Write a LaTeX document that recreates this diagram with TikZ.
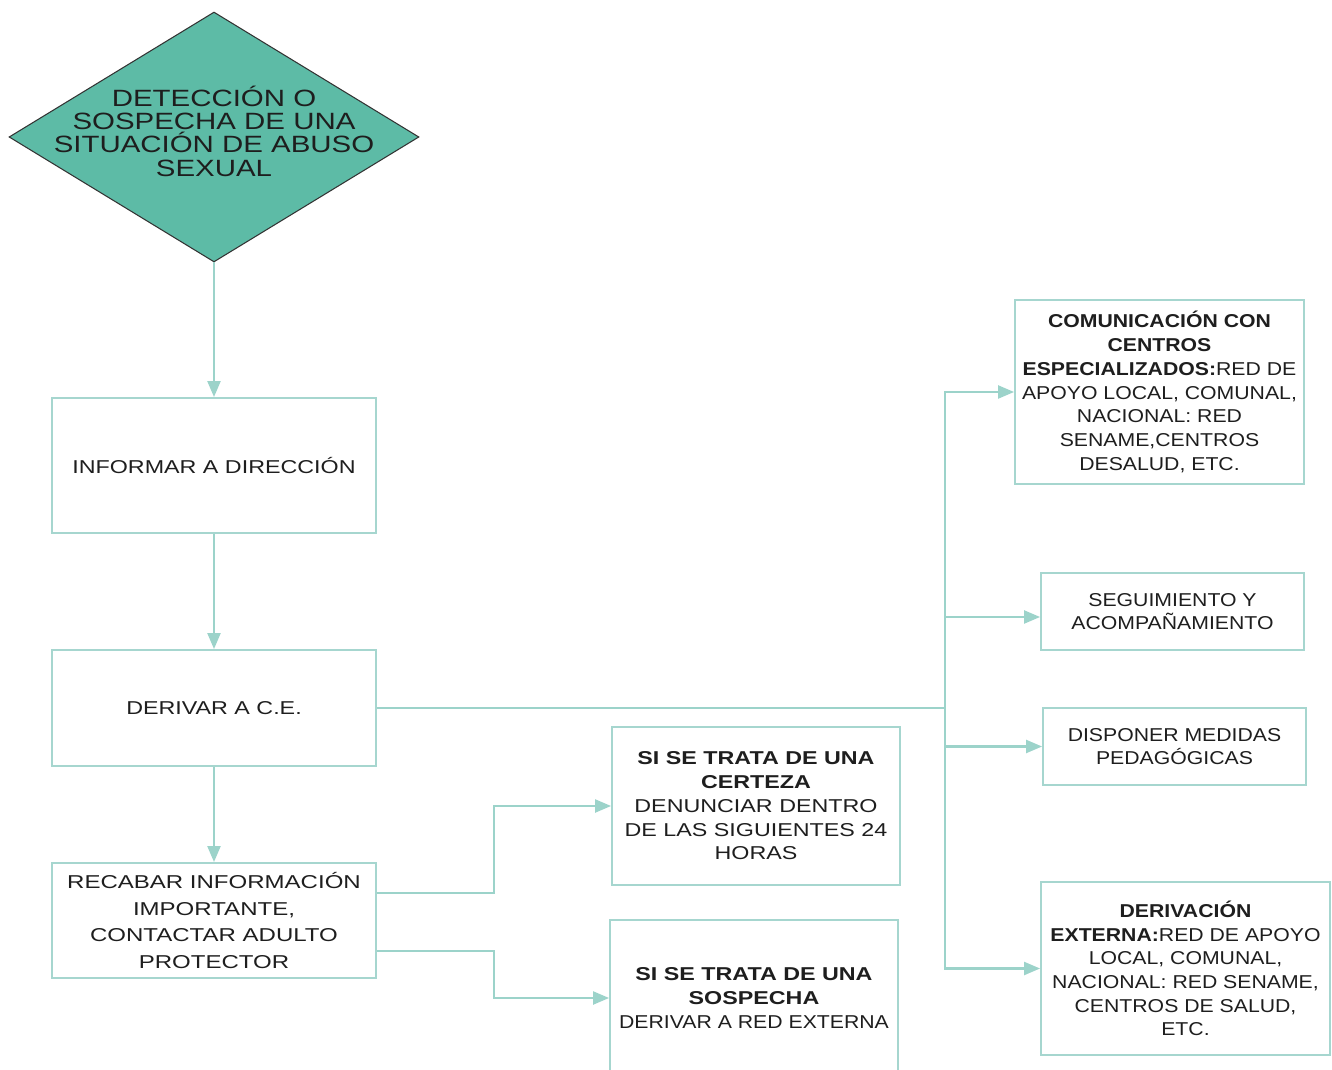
\documentclass[tikz,border=0pt]{standalone}
\usepackage{fontspec}
\usepackage{graphicx}
\setmainfont{Liberation Sans}[FakeStretch=1.25]
\newfontfamily\narrowfont{Liberation Sans}[FakeStretch=1.14]
\newfontfamily\widefont{Liberation Sans}[FakeStretch=1.29]
\usetikzlibrary{arrows.meta,shapes.geometric}
\definecolor{tealfill}{HTML}{5DBBA6}
\definecolor{boxline}{HTML}{A6D6CF}
\definecolor{arrowline}{HTML}{9CD3CA}
\definecolor{ink}{HTML}{1E1E1E}

\begin{document}
\begin{tikzpicture}[x=0.02cm, y=-0.02cm]
\tikzstyle{decision} = [diamond, draw = black!80, fill = tealfill, line width = 0.6pt, inner sep = 0pt, minimum width = 8.2cm, minimum height = 5cm]
\tikzstyle{box} = [rectangle, draw = boxline, line width = 1.1pt, inner sep = 0pt, align = center, text = ink, font = \fontsize{10.6}{13.5}\selectfont]
\tikzstyle{narrowbox} = [box, font = \narrowfont\fontsize{10.6}{13.5}\selectfont]
\tikzstyle{edge} = [-{Triangle[length=0.32cm, width=0.26cm]}, draw = arrowline, line width = 1.3pt]
\useasboundingbox (0, 0) rectangle (1332, 1070);
% -----------------------------------
% Left column
\node[decision] (detect) at (214, 137) {};
\node[align = center, text = ink, font = \fontsize{13.4}{13.3}\selectfont] (detecttext) at (214, 131) {DETECCIÓN O\\SOSPECHA DE UNA\\SITUACIÓN DE ABUSO\\SEXUAL};
\node[box, minimum width = 6.48cm, minimum height = 2.7cm] (informar) at (214, 465.5) {INFORMAR A DIRECCIÓN};
\node[box, minimum width = 6.48cm, minimum height = 2.32cm] (derivar) at (214, 708) {DERIVAR A C.E.};
\node[box, minimum width = 6.48cm, minimum height = 2.3cm, font = \widefont\fontsize{10.6}{15.2}\selectfont] (recabar) at (214, 920.5) {RECABAR INFORMACIÓN\\IMPORTANTE,\\CONTACTAR ADULTO\\PROTECTOR};

\draw[edge] (detect.south)--(informar.north);
\draw[edge] (informar.south)--(derivar.north);
\draw[edge] (derivar.south)--(recabar.north);

% -----------------------------------
% Certeza / sospecha
\node[box, minimum width = 5.76cm, minimum height = 3.16cm] (certeza) at (756, 806) {\textbf{SI SE TRATA DE UNA}\\\textbf{CERTEZA}\\DENUNCIAR DENTRO\\DE LAS SIGUIENTES 24\\HORAS};
\node[box, minimum width = 5.76cm, minimum height = 3.12cm] (sospecha) at (754, 998) {\textbf{SI SE TRATA DE UNA}\\\textbf{SOSPECHA}\\{\narrowfont DERIVAR A RED EXTERNA}};

\draw[edge] ([yshift=0.55cm]recabar.east)--++(117, 0) |- (certeza.west);
\draw[edge] ([yshift=-0.61cm]recabar.east)--++(117, 0) |- (sospecha.west);

% -----------------------------------
% Right column
\node[narrowbox, minimum width = 5.78cm, minimum height = 3.68cm] (comunicacion) at (1159.5, 392) {\textbf{COMUNICACIÓN CON}\\\textbf{CENTROS}\\\textbf{ESPECIALIZADOS:}RED DE\\APOYO LOCAL, COMUNAL,\\NACIONAL: RED\\SENAME,CENTROS\\DESALUD, ETC.};
\node[narrowbox, minimum width = 5.26cm, minimum height = 1.54cm] (seguimiento) at (1172.5, 611.5) {SEGUIMIENTO Y\\ACOMPAÑAMIENTO};
\node[narrowbox, minimum width = 5.26cm, minimum height = 1.54cm] (medidas) at (1174.5, 746.5) {DISPONER MEDIDAS\\PEDAGÓGICAS};
\node[narrowbox, minimum width = 5.78cm, minimum height = 3.46cm] (externa) at (1185.5, 968.5) {\textbf{DERIVACIÓN}\\\textbf{EXTERNA:}RED DE APOYO\\LOCAL, COMUNAL,\\NACIONAL: RED SENAME,\\CENTROS DE SALUD,\\ETC.};

\coordinate (hub) at (945, 708);
\draw[draw = arrowline, line width = 1.3pt] (derivar.east)--(hub);
\draw[edge] (hub) |- (comunicacion.west);
\draw[edge] (hub) |- ([yshift=-0.11cm]seguimiento.west);
\draw[edge] (hub) |- (medidas.west);
\draw[edge] (hub) |- (externa.west);
% -----------------------------------
\end{tikzpicture}
\end{document}
